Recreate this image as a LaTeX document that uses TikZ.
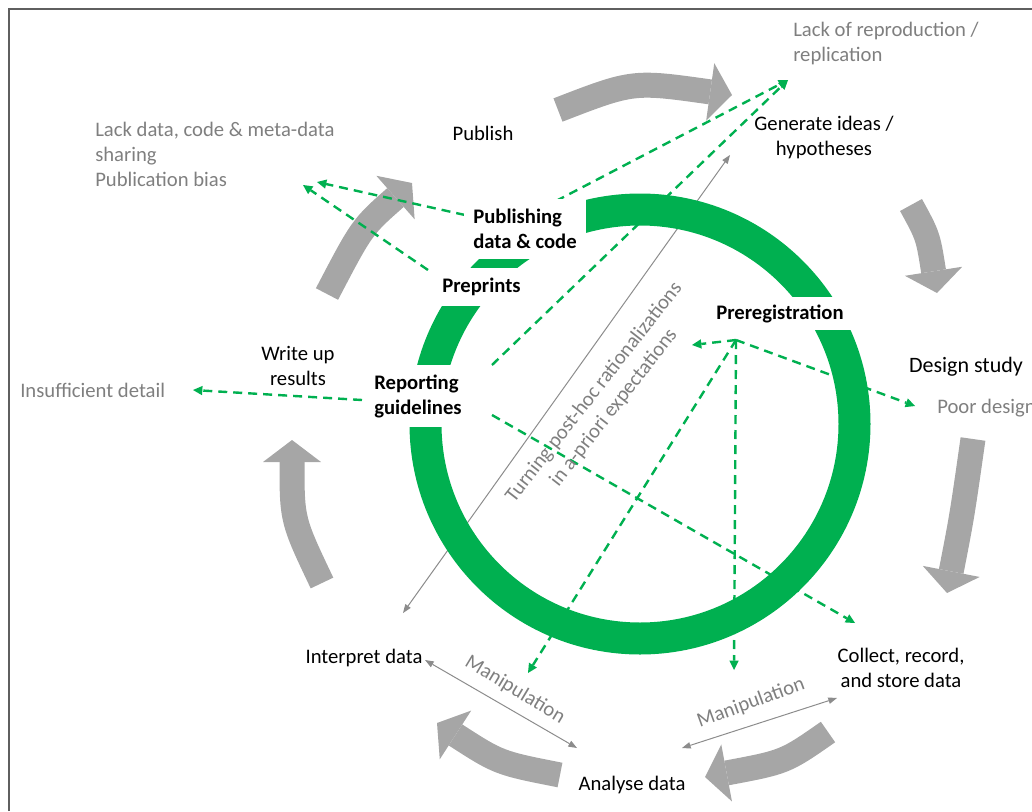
\documentclass[tikz,border=0pt]{standalone}
\usepackage{fontspec}
\setmainfont{Carlito}
\usetikzlibrary{arrows.meta,backgrounds,positioning}
\definecolor{ringgreen}{HTML}{00B050}
\definecolor{cyclegray}{HTML}{A6A6A6}
\definecolor{issuegray}{HTML}{7F7F7F}
\definecolor{linegray}{HTML}{8C8C8C}
\definecolor{framegray}{HTML}{5F5F5F}

\begin{document}
\begin{tikzpicture}[x=0.75pt,y=-0.75pt,
      font=\fontsize{15.5}{18.75}\selectfont,
      stage/.style={align=center, inner sep=0pt},
      issue/.style={text=issuegray, align=left, anchor=west, inner sep=0pt},
      tool/.style={fill=white, font=\fontsize{15.5}{18.75}\selectfont\bfseries, inner sep=0pt},
      cyc/.style={draw=cyclegray, line width=18.75pt,
        -{Triangle[length=16.5pt,width=43.5pt,line width=0pt]}},
      harm/.style={draw=ringgreen, line width=1.8pt, dash pattern=on 6.75pt off 4.5pt,
        -{Triangle[length=7pt,width=7pt,line width=0pt]}},
      link/.style={draw=linegray, line width=0.75pt,
        {Triangle[length=6.5pt,width=5pt,line width=0pt]}-{Triangle[length=6.5pt,width=5pt,line width=0pt]}}]
     \useasboundingbox (0,0) rectangle (1032,811);
     \draw[framegray, line width=1.5pt] (8.5,811) -- (8.5,9) -- (1032,9);
     % green ring
     \draw[ringgreen, line width=24pt] (640,424) circle[radius=214.5];
     % tools on the ring
     \node[tool, align=left, minimum width=91.5pt, minimum height=45pt] (pub) at (525,229) {Publishing\\data \& code};
     \node[tool, minimum width=69.75pt, minimum height=28.5pt] (prep) at (481.5,287) {Preprints};
     \node[tool, align=left, minimum width=75pt, minimum height=46.5pt] (rep) at (418,396) {Reporting\\guidelines};
     \node[tool, minimum width=114.75pt, minimum height=24.75pt] (prereg) at (780,313.5) {Preregistration};
     % stages
     \node[stage] (publish) at (483,133) {Publish};
     \node[stage] (ideas) at (824,137) {Generate ideas /\\hypotheses};
     \node[stage, font=\fontsize{16.5}{20}\selectfont] (design) at (966,367) {Design study};
     \node[stage] (collect) at (901,668) {Collect, record,\\and store data};
     \node[stage] (analyse) at (632,785) {Analyse data};
     \node[stage] (interpret) at (364,658) {Interpret data};
     \node[stage] (writeup) at (298,366) {Write up\\results};
     % issues
     \node[issue] (norepl) at (793,43) {Lack of reproduction /\\replication};
     \node[issue] (noshare) at (95,154) {Lack data, code \& meta-data\\sharing\\Publication bias};
     \node[issue] (nodetail) at (20,390) {Insufficient detail};
     \node[issue] (poordesign) at (937,408) {Poor design};
     \node[text=issuegray, align=center, rotate=52] (harking) at (604,400) {Turning post-hoc rationalizations\\in a-priori expectations};
     \node[text=issuegray, rotate=-31] (manipL) at (515,690) {Manipulation};
     \node[text=issuegray, rotate=20] (manipR) at (751,703) {Manipulation};
     % end points
     \coordinate (pubL) at (465,215);
     \coordinate (pubR) at (556,201);
     \coordinate (prepL) at (428,270);
     \coordinate (repL) at (362,400);
     \coordinate (repT) at (492,365);
     \coordinate (repR) at (492,415);
     \coordinate (hub) at (736,340);
     \coordinate (share1) at (317,182);
     \coordinate (share2) at (303,185);
     \coordinate (replIn) at (788,80);
     \coordinate (detailIn) at (193,390);
     \coordinate (collectIn) at (855,623);
     \coordinate (poorIn) at (915,406);
     \coordinate (harkIn) at (692,345);
     \coordinate (manRIn) at (734,670);
     \coordinate (manLIn) at (528,673);
     \coordinate (interpEnd) at (403,613);
     \coordinate (ideasEnd) at (730,155);
     \coordinate (manLa) at (425,660);
     \coordinate (manLb) at (577,748);
     \coordinate (manRa) at (682,748);
     \coordinate (manRb) at (837,698);
     \begin{scope}[on background layer]
       % cycle
       \draw[cyc] (558,110) .. controls (633,81) .. (732,95);
       \draw[cyc] (911,205) .. controls (928,236) .. (937,293);
       \draw[cyc] (973,439) .. controls (962,516) .. (947,593);
       \draw[cyc] (828,732) .. controls (785,762) .. (705,777);
       \draw[cyc] (560,775) .. controls (499,763) .. (437,723);
       \draw[cyc] (322,583) .. controls (292,520) .. (292,440);
       \draw[cyc] (327,294) .. controls (362,227) .. (412,183);
       % problems
       \draw[harm] (pubL) -- (share1);
       \draw[harm] (prepL) -- (share2);
       \draw[harm] (pubR) -- (replIn);
       \draw[harm] (repT) -- (replIn);
       \draw[harm] (repL) -- (detailIn);
       \draw[harm] (repR) -- (collectIn);
       \draw[harm] (hub) -- (harkIn);
       \draw[harm] (hub) -- (poorIn);
       \draw[harm] (hub) -- (manRIn);
       \draw[harm] (hub) -- (manLIn);
       \draw[link] (interpEnd) -- (ideasEnd);
       \draw[link] (manLa) -- (manLb);
       \draw[link] (manRa) -- (manRb);
     \end{scope}
\end{tikzpicture}
\end{document}
